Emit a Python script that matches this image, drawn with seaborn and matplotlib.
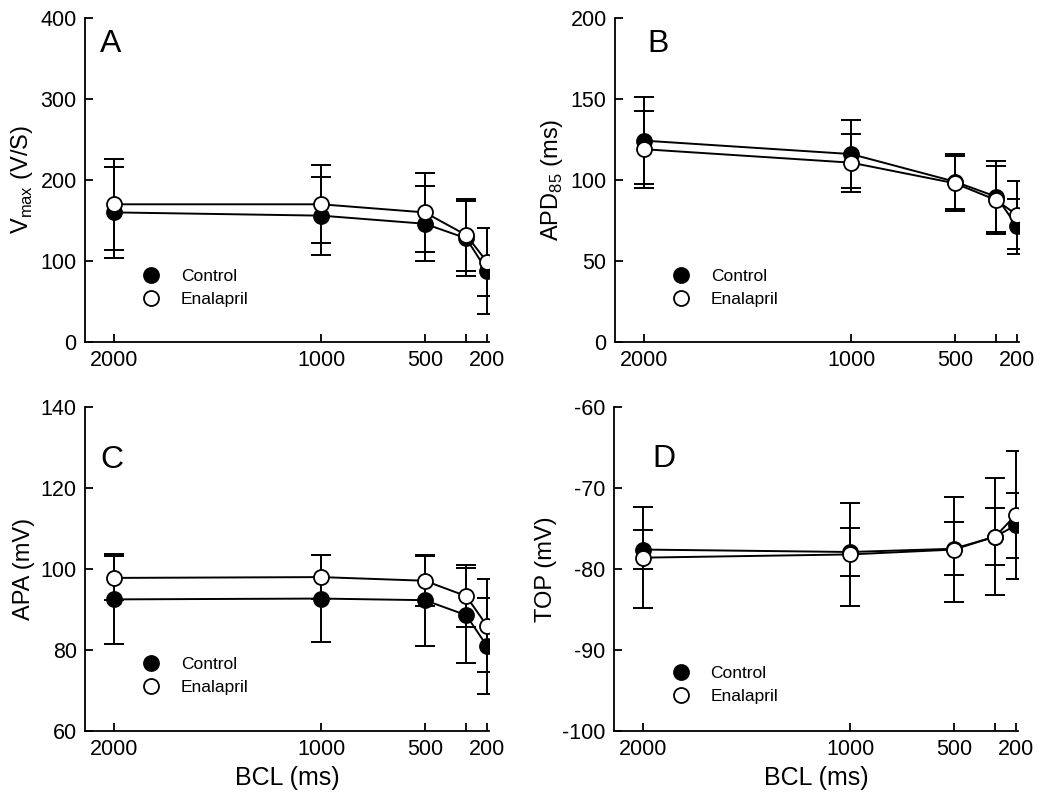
import numpy as np
import pandas as pd
import matplotlib
matplotlib.use("Agg")
import matplotlib.pyplot as plt
import seaborn as sns
from matplotlib.lines import Line2D

# ---------------- data ----------------
bcl = [2000, 1000, 500, 300, 200]
xtick_labels = ["2000", "1000", "500", "", "200"]
groups = ["Control", "Enalapril"]

vmax_control = [160, 156, 146, 128, 88]
vmax_control_err = [56, 48, 46, 46, 53]
vmax_enal = [170, 170, 160, 132, 99]
vmax_enal_err = [56, 48, 49, 44, 42]

apd_control = [124.3, 116, 99, 89.7, 71.5]
apd_control_err = [27, 21, 17, 22, 17]
apd_enal = [119, 110.7, 98, 87.6, 78.4]
apd_enal_err = [23.7, 18, 17, 21, 21]

apa_control = [92.5, 92.7, 92.3, 88.6, 81]
apa_control_err = [11.1, 10.8, 11.2, 11.7, 11.9]
apa_enal = [97.8, 98.0, 97.1, 93.3, 86]
apa_enal_err = [5.5, 5.4, 6.2, 7.7, 11.5]

top_control = [-77.6, -77.9, -77.5, -76.0, -74.6]
top_control_err = [2.4, 3.0, 3.3, 3.5, 4.0]
top_enal = [-78.6, -78.2, -77.6, -76.0, -73.3]
top_enal_err = [6.2, 6.4, 6.5, 7.2, 7.9]

panels = [
    dict(letter="A", ylabel="V$_\\mathregular{max}$ (V/S)", ylim=(0, 400), yticks=[0, 100, 200, 300, 400],
         c=vmax_control, ce=vmax_control_err, e=vmax_enal, ee=vmax_enal_err,
         letter_pos=(0.037, 0.92), leg=(0.166, 0.219)),
    dict(letter="B", ylabel="APD$_\\mathregular{85}$ (ms)", ylim=(0, 200), yticks=[0, 50, 100, 150, 200],
         c=apd_control, ce=apd_control_err, e=apd_enal, ee=apd_enal_err,
         letter_pos=(0.08, 0.92), leg=(0.166, 0.219)),
    dict(letter="C", ylabel="APA (mV)", ylim=(60, 140), yticks=[60, 80, 100, 120, 140],
         c=apa_control, ce=apa_control_err, e=apa_enal, ee=apa_enal_err,
         letter_pos=(0.037, 0.835), leg=(0.166, 0.222)),
    dict(letter="D", ylabel="TOP (mV)", ylim=(-100, -60), yticks=[-100, -90, -80, -70, -60],
         c=top_control, ce=top_control_err, e=top_enal, ee=top_enal_err,
         letter_pos=(0.095, 0.84), leg=(0.168, 0.194)),
]

# ---------------- style ----------------
sns.set_style("ticks")
plt.rcParams["font.family"] = ["Liberation Sans", "DejaVu Sans"]
plt.rcParams["axes.unicode_minus"] = False
plt.rcParams["axes.linewidth"] = 1.3
for key in ["text.color", "axes.labelcolor", "xtick.color", "ytick.color", "axes.edgecolor"]:
    plt.rcParams[key] = "black"

fig = plt.figure(figsize=(10.5, 8.02), dpi=100)
rects = [
    [85 / 1050, (802 - 342) / 802, 404 / 1050, 324 / 802],
    [615 / 1050, (802 - 342) / 802, 404 / 1050, 324 / 802],
    [85 / 1050, (802 - 731) / 802, 404 / 1050, 324 / 802],
    [614 / 1050, (802 - 731) / 802, 404 / 1050, 324 / 802],
]

ms = 10.8
lw = 1.4
for i, (p, r) in enumerate(zip(panels, rects)):
    ax = fig.add_axes(r)
    df = pd.DataFrame({
        "BCL": bcl * 2,
        "value": list(p["c"]) + list(p["e"]),
        "err": list(p["ce"]) + list(p["ee"]),
        "group": [groups[0]] * 5 + [groups[1]] * 5,
    })
    # error bars
    for g in groups:
        d = df[df["group"] == g]
        ax.errorbar(d["BCL"], d["value"], yerr=d["err"], fmt="none", ecolor="black",
                    elinewidth=lw, capsize=7, capthick=lw, zorder=2)
    # lines + markers
    for g, fc in zip(groups, ["black", "white"]):
        d = df[df["group"] == g]
        sns.lineplot(data=d, x="BCL", y="value", ax=ax, color="black", linewidth=lw,
                     marker="o", markersize=ms, markerfacecolor=fc, markeredgecolor="black",
                     markeredgewidth=1.3, errorbar=None, sort=False, zorder=3, legend=False)

    ax.set_xlim(2140, 190)
    ax.set_ylim(*p["ylim"])
    ax.set_xticks(bcl)
    ax.set_xticklabels(xtick_labels)
    ax.set_yticks(p["yticks"])
    ax.tick_params(direction="in", length=6, width=1.3, labelsize=15.5, pad=6)
    sns.despine(ax=ax)
    ax.set_ylabel(p["ylabel"], fontsize=17)
    if i >= 2:
        ax.set_xlabel("BCL (ms)", fontsize=18, labelpad=4)
    else:
        ax.set_xlabel("")
    ax.text(p["letter_pos"][0], p["letter_pos"][1], p["letter"], transform=ax.transAxes,
            fontsize=23, va="center", ha="left")

    handles = [
        Line2D([], [], linestyle="none", marker="o", markersize=ms, markerfacecolor="black",
               markeredgecolor="black", markeredgewidth=1.3),
        Line2D([], [], linestyle="none", marker="o", markersize=ms, markerfacecolor="white",
               markeredgecolor="black", markeredgewidth=1.3),
    ]
    lx, ly = p["leg"]
    ax.legend(handles, groups, frameon=False, fontsize=12.5, loc="lower left",
              bbox_to_anchor=(lx - 0.045, ly - 0.11), handletextpad=0.7, labelspacing=0.45,
              borderaxespad=0, borderpad=0)

fig.savefig("out.png", dpi=100)
